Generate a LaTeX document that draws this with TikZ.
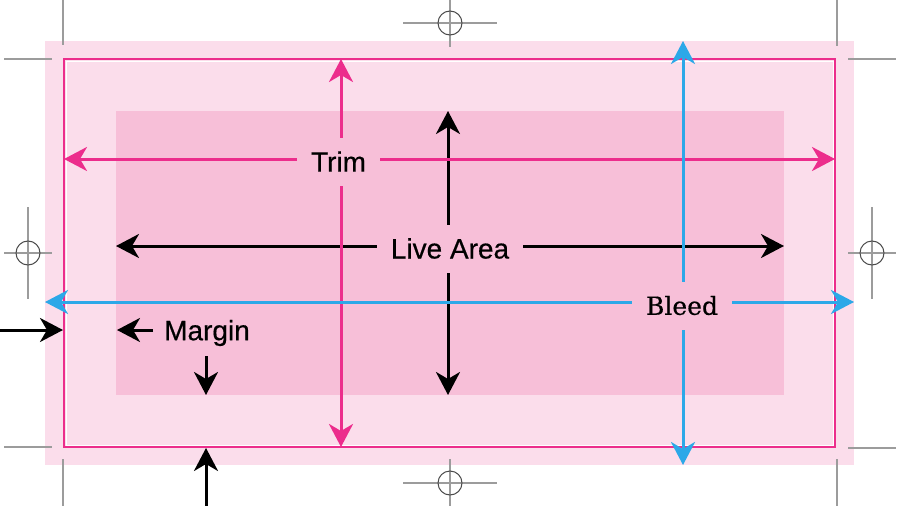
\documentclass[tikz,border=0pt]{standalone}
\usepackage{fontspec}
\setmainfont{Liberation Sans}
\newfontfamily\lblfamily[FakeBold=0.5]{Liberation Sans}
\newfontfamily\bleedfont[FakeBold=0.5]{DejaVu Serif}
\usetikzlibrary{arrows.meta,positioning}

\definecolor{bleedpink}{HTML}{FBDDEB}
\definecolor{livepink}{HTML}{F7BFD8}
\definecolor{trimmag}{HTML}{EC2D8C}
\definecolor{bleedblue}{HTML}{2CA8E8}
\definecolor{cropgray}{HTML}{9C9C9C}
\newcommand\lblfont{\lblfamily\fontsize{28}{30}\selectfont}

\begin{document}
\begin{tikzpicture}[x=1pt, y=-1pt,
    dimline/.style={line width=3pt, {Stealth[length=23pt,width=24pt,inset=7pt]}-{Stealth[length=23pt,width=24pt,inset=7pt]}},
    oneway/.style={line width=3pt, -{Stealth[length=23pt,width=24pt,inset=7pt]}},
    lbl/.style={fill=livepink, inner xsep=14pt, inner ysep=0pt, minimum height=48pt, font=\lblfont},
    cropmark/.style={cropgray, line width=1.3pt},
    regring/.style={black!70, line width=1pt}]
    \useasboundingbox (0,0) rectangle (900,506);

    % sheet
    \fill[bleedpink] (45,41) rectangle (854,465);
    \fill[livepink] (116,111) rectangle (784,395);
    \draw[trimmag, line width=2pt] (64,59) rectangle (835,447);
    \draw[white, line width=0.7pt] (66,61) rectangle (833,445);

    % crop marks
    \draw[cropmark] (63,0) -- (63,45) (4,59) -- (52,59);
    \draw[cropmark] (837,0) -- (837,46) (848,59) -- (896,59);
    \draw[cropmark] (848,448) -- (896,448) (837,459) -- (837,506);
    \draw[cropmark] (4,447) -- (52,447) (63,459) -- (63,506);

    % registration marks
    \foreach \cx/\cy/\hx/\vy in {450/23/47/24, 28/253/24/46, 872/253/24/46, 450/483/47/24} {
        \draw[cropmark] (\cx-\hx,\cy) -- (\cx+\hx,\cy) (\cx,\cy-\vy) -- (\cx,\cy+\vy);
        \draw[regring] (\cx,\cy) circle (12pt);
    }

    % live area
    \coordinate (liveL) at (116,246);
    \coordinate (liveR) at (784,246);
    \coordinate (liveT) at (448,111);
    \coordinate (liveB) at (448,395);
    \draw[dimline] (liveL) -- (liveR);
    \draw[dimline] (liveT) -- (liveB);
    \node[lbl] (live) at (450,248.5) {Live Area};

    % trim
    \coordinate (trimL) at (64,159);
    \coordinate (trimR) at (835,159);
    \coordinate (trimT) at (341,59);
    \coordinate (trimB) at (341,447);
    \draw[dimline, trimmag] (trimL) -- (trimR);
    \draw[dimline, trimmag] (trimT) -- (trimB);
    \node[lbl] (trim) at (338.5,161.5) {Trim};

    % bleed
    \coordinate (bleedL) at (45,302);
    \coordinate (bleedR) at (854,302);
    \coordinate (bleedT) at (683,41);
    \coordinate (bleedB) at (683,465);
    \draw[dimline, bleedblue] (bleedL) -- (bleedR);
    \draw[dimline, bleedblue] (bleedT) -- (bleedB);
    \node[lbl, font=\bleedfont\fontsize{25}{30}\selectfont] (bleed) at (682,305.5) {Bleed};

    % margin
    \node[lbl, fill=none] (margin) at (207,333) {Margin};
    \coordinate (mgLeftA) at (153,330);
    \coordinate (mgLeftB) at (117,330);
    \coordinate (mgDownA) at (206,356);
    \coordinate (mgDownB) at (206,395);
    \coordinate (outLeftA) at (0,330);
    \coordinate (outLeftB) at (63,330);
    \coordinate (outBotA) at (206,506);
    \coordinate (outBotB) at (206,448);
    \draw[oneway] (mgLeftA) -- (mgLeftB);
    \draw[oneway] (mgDownA) -- (mgDownB);
    \draw[oneway] (outLeftA) -- (outLeftB);
    \draw[oneway] (outBotA) -- (outBotB);
\end{tikzpicture}
\end{document}
